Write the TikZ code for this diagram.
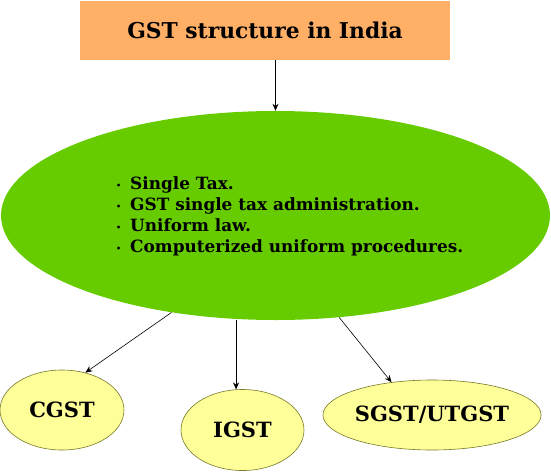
\documentclass[tikz,border=0pt]{standalone}
\usepackage{fontspec}
\setmainfont{DejaVu Serif}
\definecolor{titleOrange}{RGB}{255,176,102}
\definecolor{mainGreen}{RGB}{102,204,0}
\definecolor{partYellow}{RGB}{255,255,153}
\definecolor{partBorder}{RGB}{120,120,40}
\usetikzlibrary{arrows.meta, positioning, shapes}
\newcommand{\gstbullet}{\makebox[14pt][l]{\raisebox{1pt}{\fontsize{8}{8}\selectfont\textbullet}}}

\begin{document}
\begin{tikzpicture}[
    x=1pt, y=-1pt,
    every node/.style={font=\bfseries},
    titlebox/.style={fill=titleOrange, minimum width=370pt, minimum height=59pt,
                     inner sep=0pt, font=\bfseries\fontsize{21.8}{26}\selectfont},
    mainoval/.style={ellipse, fill=mainGreen, minimum width=549pt, minimum height=209pt,
                     inner sep=0pt},
    partoval/.style={ellipse, draw=partBorder, line width=0.6pt, fill=partYellow,
                     inner sep=0pt, font=\bfseries\fontsize{21}{24}\selectfont},
    arr/.style={-{Stealth[length=7pt, width=6pt]}, line width=0.6pt}
  ]
    \useasboundingbox (0,0) rectangle (551,471);
    \node[titlebox] (title) at (265,30.5) {GST structure in India};
    \node[mainoval] (main) at (275.5,215.5) {};
    \node[anchor=west, align=left, inner sep=0pt,
          font=\bfseries\fontsize{16.9}{21}\selectfont] (points) at (116,216) {
      \gstbullet Single Tax.\\
      \gstbullet GST single tax administration.\\
      \gstbullet Uniform law.\\
      \gstbullet Computerized uniform procedures.
    };
    \node[partoval, minimum width=124pt, minimum height=80pt] (cgst) at (62,410) {CGST};
    \node[partoval, minimum width=123pt, minimum height=81pt] (igst) at (242.5,430) {IGST};
    \node[partoval, minimum width=180pt, minimum height=70pt] (sgst) at (432,415) {SGST/UTGST};

    \draw[arr] (main.north |- title.south) -- (main.north);
    \draw[arr] (main.223) -- (cgst.58);
    \draw[arr] (igst.99 |- main.south) -- (igst.99);
    \draw[arr] (main.302) -- (sgst.141);
  \end{tikzpicture}
\end{document}
